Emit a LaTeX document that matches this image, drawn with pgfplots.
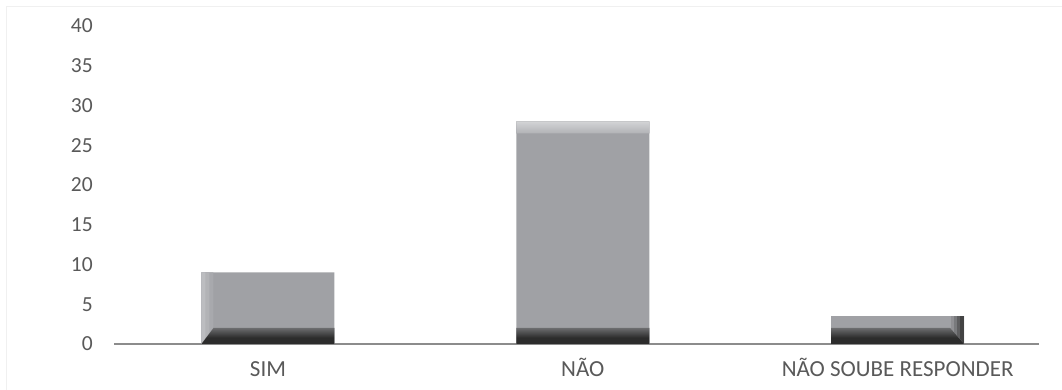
\documentclass[border=0pt]{standalone}
\usepackage{fontspec}
\setmainfont{Carlito}
\usepackage{pgfplots}
\pgfplotsset{compat=1.18}
\definecolor{face}{RGB}{160,161,165}
\definecolor{topL}{RGB}{214,215,217}
\definecolor{leftL}{RGB}{200,201,203}
\definecolor{darkB}{RGB}{44,44,44}
\definecolor{darkR}{RGB}{50,50,50}
\definecolor{txt}{RGB}{89,89,89}
\definecolor{axl}{RGB}{140,140,140}
\definecolor{brd}{RGB}{240,240,240}
\pgfdeclareverticalshading{topband}{100bp}{color(0bp)=(face); color(80bp)=(topL); color(100bp)=(topL)}
\pgfdeclareverticalshading{botband}{100bp}{color(0bp)=(darkB); color(45bp)=(darkB); color(100bp)=(face)}
\newif\ifinbevel
\newcommand\rband[2]{\fill[#2] (ne) -- ([shift={(-#1pt,-#1pt)}]ne) -- ([shift={(-#1pt,#1pt)}]se) -- (se) -- cycle;}
\newcommand\lband[2]{\fill[#2] (nw) -- ([shift={(#1pt,-#1pt)}]nw) -- ([shift={(#1pt,#1pt)}]sw) -- (sw) -- cycle;}
\tikzset{bevel/.style={path picture={%
  \ifinbevel\else
  \inbeveltrue
  \coordinate (nw) at (path picture bounding box.north west);
  \coordinate (ne) at (path picture bounding box.north east);
  \coordinate (sw) at (path picture bounding box.south west);
  \coordinate (se) at (path picture bounding box.south east);
  \lband{12}{face!80!leftL}\lband{8}{face!55!leftL}\lband{4}{face!30!leftL}
  \rband{13}{face!85!darkR}\rband{10}{face!65!darkR}\rband{7}{face!40!darkR}\rband{4}{face!15!darkR}
  \shade[shading=topband] (nw) -- (ne) -- ([shift={(-12pt,-12pt)}]ne) -- ([shift={(12pt,-12pt)}]nw) -- cycle;
  \shade[shading=botband] (sw) -- (se) -- ([shift={(-14pt,16pt)}]se) -- ([shift={(12pt,16pt)}]sw) -- cycle;
  \fi
}}}
\begin{document}
\begin{tikzpicture}[x=1pt,y=1pt]
\useasboundingbox (0,0) rectangle (1062,390);
\draw[brd, line width=1pt] (6.5,-2) -- (6.5,383.5) -- (1064,383.5);
\begin{axis}[
  at={(114pt,46pt)}, anchor=south west,
  scale only axis, width=925pt, height=318pt,
  ybar, bar width=133pt,
  xmin=-0.489, xmax=2.449, ymin=0, ymax=40,
  ytick={0,5,...,40},
  xtick=data,
  xticklabels={SIM, NÃO, NÃO SOUBE RESPONDER},
  axis lines=left,
  x axis line style={-, draw=axl, line width=2pt},
  y axis line style={draw=none},
  major tick style={draw=none},
  /pgf/number format/assume math mode=true,
  tick label style={text=txt},
  yticklabel style={font=\fontsize{21.5}{25}\selectfont, anchor=east, inner sep=0pt, xshift=-19pt},
  xticklabel style={font=\fontsize{23}{27}\selectfont, anchor=base, inner sep=0pt, yshift=-30pt},
  clip=false,
]
\addplot[fill=face, draw=none, bevel] coordinates {(0,9) (1,28) (2,3.5)};
\end{axis}
\end{tikzpicture}
\end{document}
